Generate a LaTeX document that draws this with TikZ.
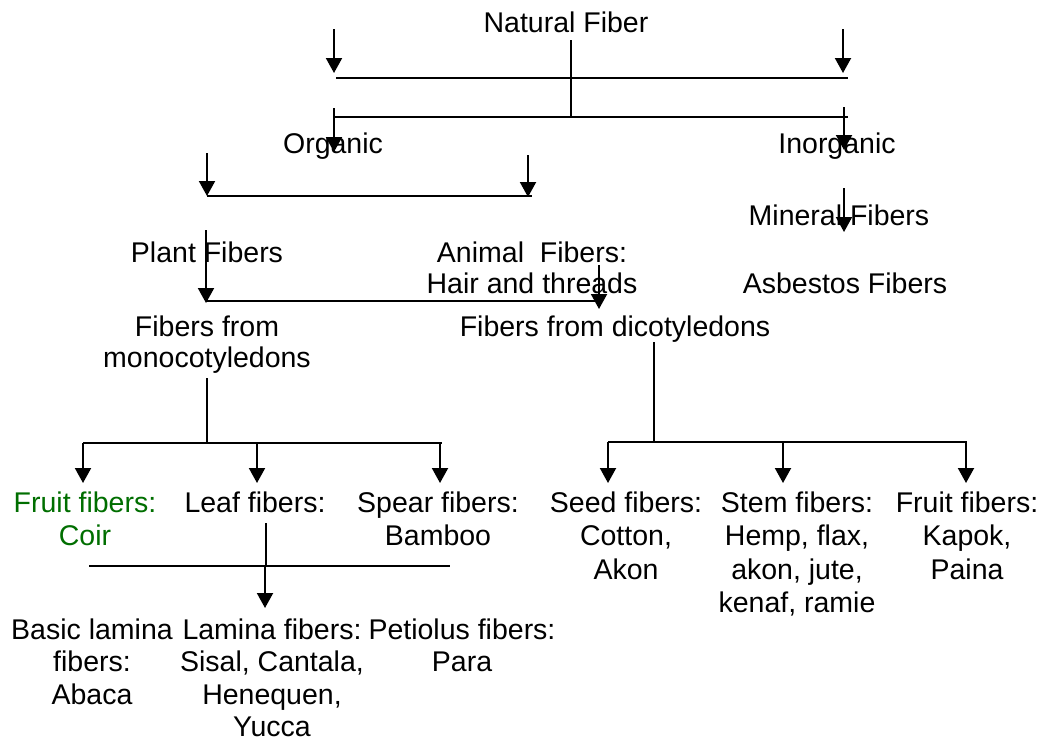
\documentclass[tikz,border=0pt]{standalone}
\usepackage{fontspec}
\setmainfont{Liberation Sans}
\usetikzlibrary{arrows.meta}
\definecolor{coirgreen}{RGB}{0,110,0}

\begin{document}
\begin{tikzpicture}[
  x=1pt, y=-1pt,
  font=\fontsize{28.5}{33.5}\selectfont,
  every node/.style={align=center, inner sep=0pt},
  lbl/.style  ={anchor=north},
  tight/.style={font=\fontsize{28.5}{31}\selectfont},
  low/.style  ={font=\fontsize{28.5}{32.5}\selectfont},
  arrow/.style={-{Triangle[length=15pt,width=16pt]}, line width=2pt},
  bar/.style  ={line width=2.8pt},
  rail/.style ={line width=1.6pt},
  hair/.style ={line width=1.2pt},
]
\useasboundingbox (0,0) rectangle (1043,742);

% -------- labels ----------------------------------------------------------
\node[lbl] (nat)     at (566,12)    {Natural Fiber};
\node[lbl] (org)     at (333,132.5) {Organic};
\node[lbl] (inorg)   at (837,132.5) {Inorganic};
\node[lbl] (mineral) at (839,204.5) {Mineral Fibers};
\node[lbl] (asb)     at (845,272.5) {Asbestos Fibers};
\node[lbl] (plant)   at (207,241.5) {Plant Fibers};
\node[lbl, tight] (animal) at (532,241.5) {Animal\ \ Fibers:\\Hair and threads};
\node[lbl, tight] (mono)   at (207,315.5) {Fibers from\\monocotyledons};
\node[lbl] (dico)    at (615,315.5) {Fibers from dicotyledons};

% monocotyledons
\node[lbl, text=coirgreen] (fruitm) at (85,491.5) {Fruit fibers:\\Coir};
\node[lbl] (leaf)    at (255,491.5) {Leaf fibers:};
\node[lbl] (spear)   at (438,491.5) {Spear fibers:\\Bamboo};
\node[lbl, low] (basic)  at (92,618.5)  {Basic lamina\\fibers:\\Abaca};
\node[lbl, low] (lamina) at (272,618.5) {Lamina fibers:\\Sisal, Cantala,\\Henequen,\\Yucca};
\node[lbl, low] (petiol) at (462,618.5) {Petiolus fibers:\\Para};

% dicotyledons
\node[lbl] (seed)    at (626,491.5) {Seed fibers:\\Cotton,\\Akon};
\node[lbl] (stem)    at (797,491.5) {Stem fibers:\\Hemp, flax,\\akon, jute,\\kenaf, ramie};
\node[lbl] (fruitd)  at (967,491.5) {Fruit fibers:\\Kapok,\\Paina};

% -------- top split -------------------------------------------------------
\coordinate (topL-a) at (334,29);  \coordinate (topL-b) at (334,73);
\coordinate (topR-a) at (843,29);  \coordinate (topR-b) at (843,73);
\coordinate (bar1L)  at (336,78);  \coordinate (bar1R)  at (848,78);
\coordinate (nat-a)  at (571,40);  \coordinate (nat-b)  at (571,117);
\coordinate (bar2L)  at (334,117); \coordinate (bar2R)  at (848,117);
\coordinate (org-a)  at (334,108); \coordinate (org-b)  at (334,152);
\coordinate (inorg-a) at (844,107); \coordinate (inorg-b) at (844,150);

\draw[arrow] (topL-a) -- (topL-b);
\draw[arrow] (topR-a) -- (topR-b);
\draw[bar] (bar1L) -- (bar1R);
\draw[bar] (nat-a) -- (nat-b);
\draw[bar] (bar2L) -- (bar2R);
\draw[arrow] (org-a) -- (org-b);
\draw[arrow] (inorg-a) -- (inorg-b);

% -------- organic / inorganic ---------------------------------------------
\coordinate (pl-a) at (207,153); \coordinate (pl-b) at (207,196);
\coordinate (an-a) at (528,155); \coordinate (an-b) at (528,197);
\coordinate (bar3R) at (532,196);
\draw[arrow] (pl-a) -- (pl-b);
\draw[arrow] (an-a) -- (an-b);
\draw[bar] (pl-b) -- (bar3R);

\coordinate (mono-a) at (206,230); \coordinate (mono-b) at (206,303);
\coordinate (bar4L) at (206,301);  \coordinate (bar4R) at (599,301);
\coordinate (dico-a) at (599,265); \coordinate (dico-b) at (599,309);
\draw[arrow] (mono-a) -- (mono-b);
\draw[bar] (bar4L) -- (bar4R);
\draw[arrow] (dico-a) -- (dico-b);

\coordinate (min-a) at (844,188); \coordinate (min-b) at (844,232);
\draw[arrow] (min-a) -- (min-b);

% -------- monocotyledons --------------------------------------------------
\coordinate (mstem-a) at (207,378); \coordinate (mstem-b) at (207,443);
\coordinate (mrailL) at (83,443);   \coordinate (mrailR) at (442,443);
\draw[hair] (mstem-a) -- (mstem-b);
\draw[rail] (mrailL) -- (mrailR);
\foreach \n/\x in {fm/83, lf/257, sp/440} {
  \coordinate (\n-a) at (\x,443); \coordinate (\n-b) at (\x,483);
  \draw[arrow] (\n-a) -- (\n-b);
}

\coordinate (leaf-a) at (266,523); \coordinate (leaf-b) at (266,565);
\coordinate (bar5L) at (89,566);   \coordinate (bar5R) at (450,566);
\coordinate (lam-a) at (265,566);  \coordinate (lam-b) at (265,608);
\draw[hair] (leaf-a) -- (leaf-b);
\draw[bar] (bar5L) -- (bar5R);
\draw[arrow] (lam-a) -- (lam-b);

% -------- dicotyledons ----------------------------------------------------
\coordinate (dstem-a) at (654,342); \coordinate (dstem-b) at (654,442);
\coordinate (drailL) at (608,442);  \coordinate (drailR) at (967,442);
\draw[hair] (dstem-a) -- (dstem-b);
\draw[rail] (drailL) -- (drailR);
\foreach \n/\x in {sd/608, st/783, fd/966} {
  \coordinate (\n-a) at (\x,442); \coordinate (\n-b) at (\x,483);
  \draw[arrow] (\n-a) -- (\n-b);
}

\end{tikzpicture}
\end{document}
